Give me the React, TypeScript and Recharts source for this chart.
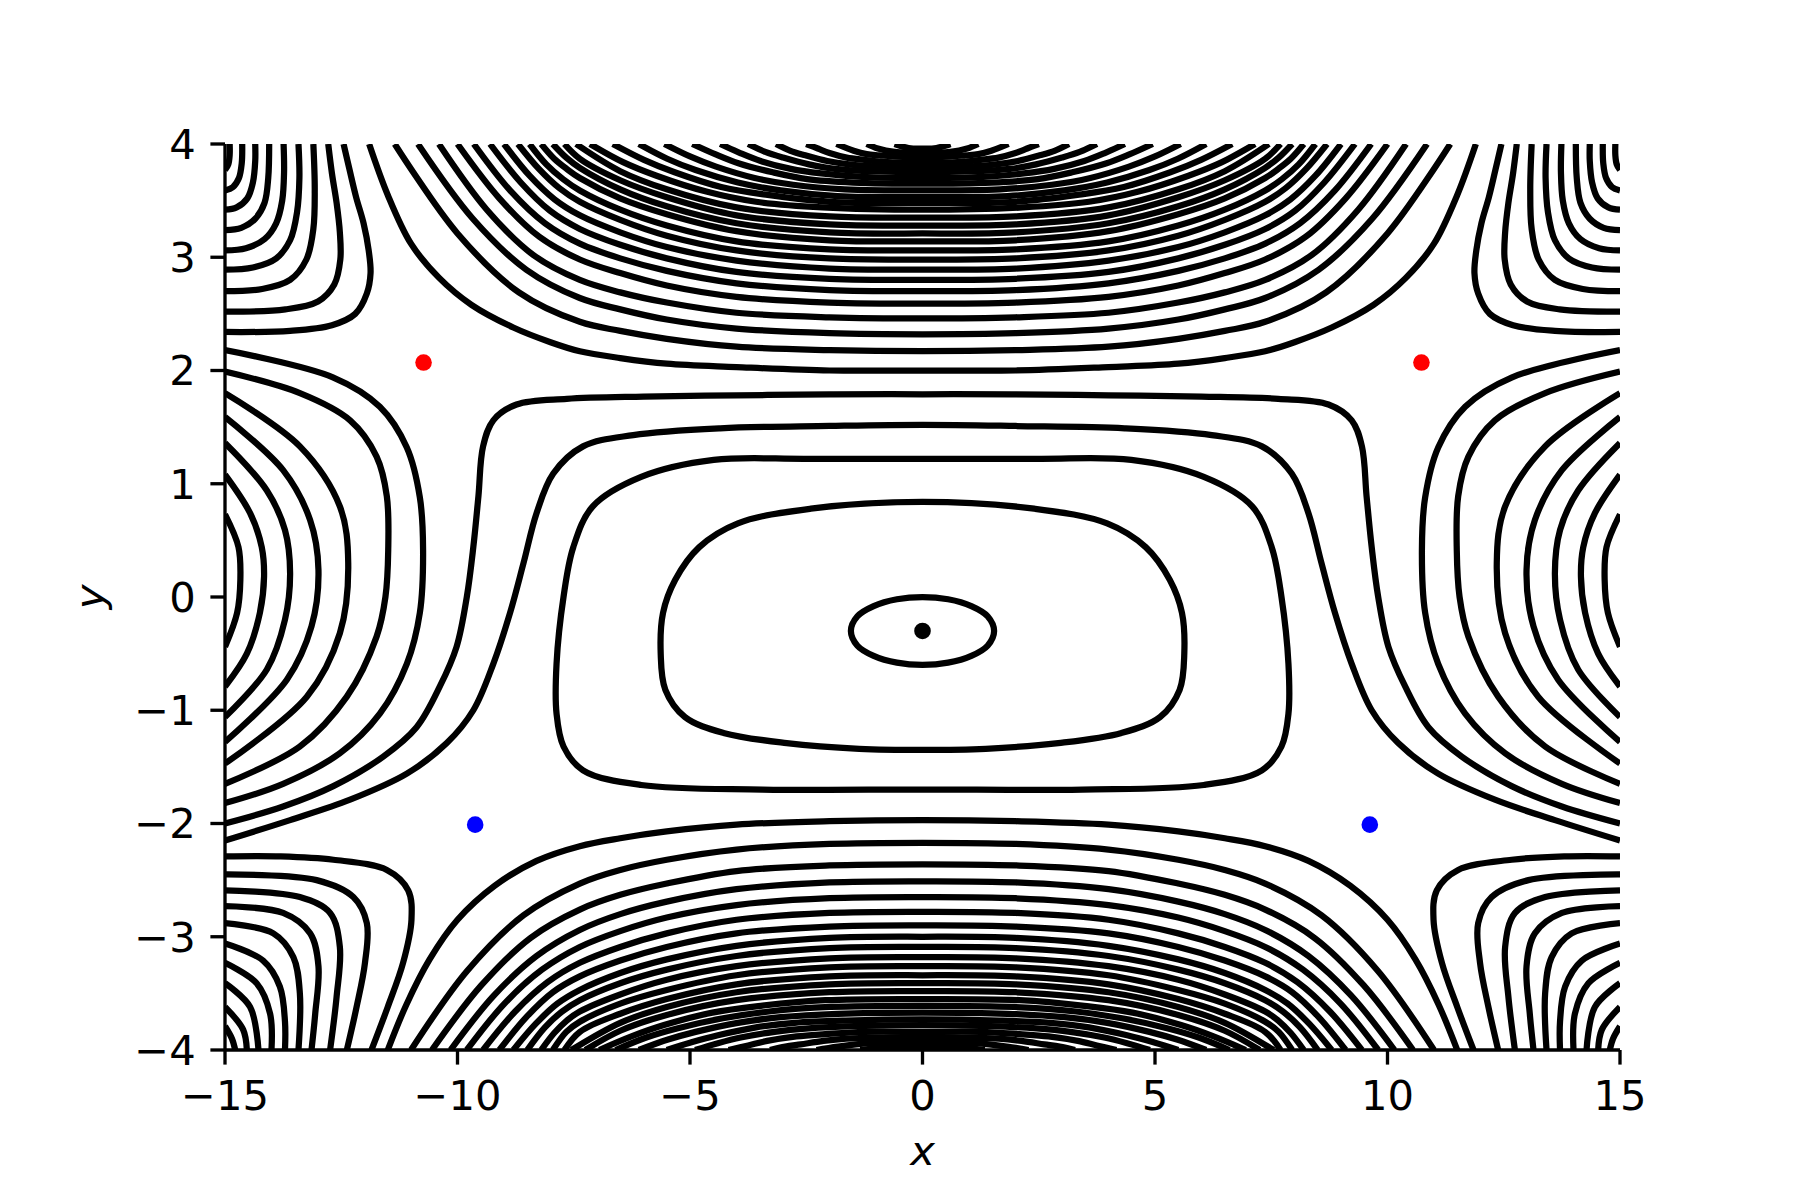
import React from 'react';
import { ComposedChart, Line, XAxis, YAxis } from 'recharts';

type Pair = [number, number];

const xTicks = [-15, -10, -5, 0, 5, 10, 15];
const yTicks = [-4, -3, -2, -1, 0, 1, 2, 3, 4];

// lines that leave the top edge, dip toward the middle and go back up
const topBand: Pair[][] = [
  [[-11.9,4],[-11.5,3.55],[-11,3.12],[-10.4,2.82],[-9.7,2.58],[-8.8,2.38],[-8,2.25],[-7.37,2.17],[-6.5,2.11],[-5.5,2.06],[-4,2.03],[-2,2],[0,2],[2,2],[4,2.03],[5.5,2.06],[6.5,2.11],[7.37,2.17],[8,2.25],[8.8,2.38],[9.7,2.58],[10.4,2.82],[11,3.12],[11.5,3.55],[11.9,4]],
  [[-11.35,4],[-10,3.21],[-8.68,2.69],[-7.37,2.43],[-6.5,2.35],[-5.5,2.28],[-4,2.21],[-2,2.18],[0,2.17],[2,2.18],[4,2.21],[5.5,2.28],[6.5,2.35],[7.37,2.43],[8.68,2.69],[10,3.21],[11.35,4]],
  [[-10.85,4],[-9.67,3.34],[-8.52,2.89],[-7.37,2.64],[-6.5,2.54],[-5.5,2.45],[-4,2.37],[-2,2.33],[0,2.32],[2,2.33],[4,2.37],[5.5,2.45],[6.5,2.54],[7.37,2.64],[8.52,2.89],[9.67,3.34],[10.85,4]],
  [[-10.4,4],[-9.37,3.42],[-8.37,3.02],[-7.37,2.8],[-6.5,2.69],[-5.5,2.6],[-4,2.51],[-2,2.47],[0,2.46],[2,2.47],[4,2.51],[5.5,2.6],[6.5,2.69],[7.37,2.8],[8.37,3.02],[9.37,3.42],[10.4,4]],
  [[-10,4],[-9.1,3.52],[-8.24,3.18],[-7.37,2.98],[-6.5,2.86],[-5.5,2.75],[-4,2.65],[-2,2.6],[0,2.59],[2,2.6],[4,2.65],[5.5,2.75],[6.5,2.86],[7.37,2.98],[8.24,3.18],[9.1,3.52],[10,4]],
  [[-9.65,4],[-8.87,3.59],[-8.12,3.3],[-7.37,3.12],[-6.5,2.99],[-5.5,2.88],[-4,2.77],[-2,2.71],[0,2.7],[2,2.71],[4,2.77],[5.5,2.88],[6.5,2.99],[7.37,3.12],[8.12,3.3],[8.87,3.59],[9.65,4]],
  [[-9.3,4],[-8.64,3.66],[-8.01,3.41],[-7.37,3.25],[-6.5,3.11],[-5.5,2.99],[-4,2.87],[-2,2.81],[0,2.8],[2,2.81],[4,2.87],[5.5,2.99],[6.5,3.11],[7.37,3.25],[8.01,3.41],[8.64,3.66],[9.3,4]],
  [[-9,4],[-8.45,3.72],[-7.91,3.51],[-7.37,3.37],[-6.5,3.22],[-5.5,3.09],[-4,2.97],[-2,2.9],[0,2.89],[2,2.9],[4,2.97],[5.5,3.09],[6.5,3.22],[7.37,3.37],[7.91,3.51],[8.45,3.72],[9,4]],
  [[-8.7,4],[-8.25,3.78],[-7.81,3.61],[-7.37,3.49],[-6.5,3.33],[-5.5,3.19],[-4,3.06],[-2,2.99],[0,2.98],[2,2.99],[4,3.06],[5.5,3.19],[6.5,3.33],[7.37,3.49],[7.81,3.61],[8.25,3.78],[8.7,4]],
  [[-8.45,4],[-8.09,3.82],[-7.73,3.69],[-7.37,3.59],[-6.5,3.42],[-5.5,3.28],[-4,3.14],[-2,3.07],[0,3.06],[2,3.07],[4,3.14],[5.5,3.28],[6.5,3.42],[7.37,3.59],[7.73,3.69],[8.09,3.82],[8.45,4]],
  [[-8.2,4],[-7.92,3.87],[-7.65,3.78],[-7.37,3.7],[-6.5,3.52],[-5.5,3.38],[-4,3.23],[-2,3.15],[0,3.14],[2,3.15],[4,3.23],[5.5,3.38],[6.5,3.52],[7.37,3.7],[7.65,3.78],[7.92,3.87],[8.2,4]],
  [[-7.95,4],[-7.66,3.88],[-7.37,3.79],[-6.5,3.6],[-5.5,3.45],[-4,3.3],[-2,3.22],[0,3.21],[2,3.22],[4,3.3],[5.5,3.45],[6.5,3.6],[7.37,3.79],[7.66,3.88],[7.95,4]],
  [[-7.7,4],[-7.37,3.87],[-6.5,3.68],[-5.5,3.53],[-4,3.37],[-2,3.29],[0,3.28],[2,3.29],[4,3.37],[5.5,3.53],[6.5,3.68],[7.37,3.87],[7.7,4]],
  [[-7.45,4],[-6.5,3.76],[-5.5,3.6],[-4,3.44],[-2,3.36],[0,3.35],[2,3.36],[4,3.44],[5.5,3.6],[6.5,3.76],[7.45,4]],
  [[-7.15,4],[-6.44,3.84],[-5.72,3.72],[-4.65,3.58],[-3.58,3.49],[-2.15,3.44],[0,3.42],[2.15,3.44],[3.58,3.49],[4.65,3.58],[5.72,3.72],[6.44,3.84],[7.15,4]],
  [[-6.66,4],[-5.99,3.86],[-5.33,3.75],[-4.33,3.62],[-3.33,3.55],[-2,3.49],[0,3.48],[2,3.49],[3.33,3.55],[4.33,3.62],[5.33,3.75],[5.99,3.86],[6.66,4]],
  [[-6.1,4],[-5.49,3.87],[-4.88,3.77],[-3.97,3.66],[-3.05,3.59],[-1.83,3.54],[0,3.53],[1.83,3.54],[3.05,3.59],[3.97,3.66],[4.88,3.77],[5.49,3.87],[6.1,4]],
  [[-5.55,4],[-5,3.89],[-4.44,3.8],[-3.61,3.7],[-2.78,3.64],[-1.67,3.6],[0,3.59],[1.67,3.6],[2.78,3.64],[3.61,3.7],[4.44,3.8],[5,3.89],[5.55,4]],
  [[-4.95,4],[-4.46,3.91],[-3.96,3.83],[-3.22,3.75],[-2.48,3.69],[-1.49,3.66],[0,3.65],[1.49,3.66],[2.48,3.69],[3.22,3.75],[3.96,3.83],[4.46,3.91],[4.95,4]],
  [[-4.35,4],[-3.92,3.92],[-3.48,3.85],[-2.83,3.78],[-2.18,3.74],[-1.31,3.71],[0,3.7],[1.31,3.71],[2.18,3.74],[2.83,3.78],[3.48,3.85],[3.92,3.92],[4.35,4]],
  [[-3.75,4],[-3.38,3.93],[-3,3.88],[-2.44,3.82],[-1.88,3.78],[-1.13,3.76],[0,3.75],[1.13,3.76],[1.88,3.78],[2.44,3.82],[3,3.88],[3.38,3.93],[3.75,4]],
  [[-3.15,4],[-2.84,3.94],[-2.52,3.9],[-2.05,3.85],[-1.58,3.82],[-0.95,3.8],[0,3.79],[0.95,3.8],[1.58,3.82],[2.05,3.85],[2.52,3.9],[2.84,3.94],[3.15,4]],
  [[-2.5,4],[-2.25,3.96],[-2,3.92],[-1.63,3.88],[-1.25,3.86],[-0.75,3.84],[0,3.84],[0.75,3.84],[1.25,3.86],[1.63,3.88],[2,3.92],[2.25,3.96],[2.5,4]],
  [[-1.85,4],[-1.48,3.94],[-1.2,3.91],[-0.93,3.9],[0,3.88],[0.93,3.9],[1.2,3.91],[1.48,3.94],[1.85,4]],
  [[-1.2,4],[-0.96,3.96],[-0.6,3.93],[0,3.92],[0.6,3.93],[0.96,3.96],[1.2,4]],
  [[-0.6,4],[-0.3,3.965],[0,3.96],[0.3,3.965],[0.6,4]],
];

const bottomBand: Pair[][] = [
  [[-11.5,-4],[-11.1,-3.6],[-10.6,-3.2],[-10,-2.85],[-9.2,-2.55],[-8.3,-2.33],[-7.37,-2.2],[-6.5,-2.13],[-5.5,-2.07],[-4,-2.01],[-2,-1.98],[0,-1.97],[2,-1.98],[4,-2.01],[5.5,-2.07],[6.5,-2.13],[7.37,-2.2],[8.3,-2.33],[9.2,-2.55],[10,-2.85],[10.6,-3.2],[11.1,-3.6],[11.5,-4]],
  [[-11,-4],[-9.79,-3.3],[-8.58,-2.81],[-7.37,-2.53],[-6.5,-2.41],[-5.5,-2.32],[-4,-2.23],[-2,-2.18],[0,-2.17],[2,-2.18],[4,-2.23],[5.5,-2.32],[6.5,-2.41],[7.37,-2.53],[8.58,-2.81],[9.79,-3.3],[11,-4]],
  [[-10.55,-4],[-9.49,-3.43],[-8.43,-3.01],[-7.37,-2.76],[-6.5,-2.63],[-5.5,-2.53],[-4,-2.42],[-2,-2.37],[0,-2.36],[2,-2.37],[4,-2.42],[5.5,-2.53],[6.5,-2.63],[7.37,-2.76],[8.43,-3.01],[9.49,-3.43],[10.55,-4]],
  [[-10.15,-4],[-9.22,-3.52],[-8.3,-3.17],[-7.37,-2.94],[-6.5,-2.8],[-5.5,-2.69],[-4,-2.58],[-2,-2.52],[0,-2.51],[2,-2.52],[4,-2.58],[5.5,-2.69],[6.5,-2.8],[7.37,-2.94],[8.3,-3.17],[9.22,-3.52],[10.15,-4]],
  [[-9.8,-4],[-8.99,-3.59],[-8.18,-3.29],[-7.37,-3.09],[-6.5,-2.95],[-5.5,-2.83],[-4,-2.72],[-2,-2.66],[0,-2.65],[2,-2.66],[4,-2.72],[5.5,-2.83],[6.5,-2.95],[7.37,-3.09],[8.18,-3.29],[8.99,-3.59],[9.8,-4]],
  [[-9.45,-4],[-8.76,-3.66],[-8.06,-3.4],[-7.37,-3.23],[-6.5,-3.09],[-5.5,-2.97],[-4,-2.85],[-2,-2.79],[0,-2.78],[2,-2.79],[4,-2.85],[5.5,-2.97],[6.5,-3.09],[7.37,-3.23],[8.06,-3.4],[8.76,-3.66],[9.45,-4]],
  [[-9.1,-4],[-8.52,-3.71],[-7.95,-3.49],[-7.37,-3.35],[-6.5,-3.21],[-5.5,-3.09],[-4,-2.97],[-2,-2.91],[0,-2.9],[2,-2.91],[4,-2.97],[5.5,-3.09],[6.5,-3.21],[7.37,-3.35],[7.95,-3.49],[8.52,-3.71],[9.1,-4]],
  [[-8.8,-4],[-8.32,-3.77],[-7.85,-3.59],[-7.37,-3.47],[-6.5,-3.32],[-5.5,-3.2],[-4,-3.08],[-2,-3.01],[0,-3],[2,-3.01],[4,-3.08],[5.5,-3.2],[6.5,-3.32],[7.37,-3.47],[7.85,-3.59],[8.32,-3.77],[8.8,-4]],
  [[-8.5,-4],[-8.12,-3.8],[-7.75,-3.66],[-7.37,-3.56],[-6.5,-3.41],[-5.5,-3.29],[-4,-3.17],[-2,-3.1],[0,-3.09],[2,-3.1],[4,-3.17],[5.5,-3.29],[6.5,-3.41],[7.37,-3.56],[7.75,-3.66],[8.12,-3.8],[8.5,-4]],
  [[-8.2,-4],[-7.92,-3.85],[-7.65,-3.74],[-7.37,-3.66],[-6.5,-3.51],[-5.5,-3.38],[-4,-3.26],[-2,-3.19],[0,-3.18],[2,-3.19],[4,-3.26],[5.5,-3.38],[6.5,-3.51],[7.37,-3.66],[7.65,-3.74],[7.92,-3.85],[8.2,-4]],
  [[-7.95,-4],[-7.66,-3.84],[-7.37,-3.75],[-6.5,-3.59],[-5.5,-3.47],[-4,-3.34],[-2,-3.27],[0,-3.26],[2,-3.27],[4,-3.34],[5.5,-3.47],[6.5,-3.59],[7.37,-3.75],[7.66,-3.84],[7.95,-4]],
  [[-7.7,-4],[-7.37,-3.84],[-6.5,-3.68],[-5.5,-3.55],[-4,-3.42],[-2,-3.35],[0,-3.34],[2,-3.35],[4,-3.42],[5.5,-3.55],[6.5,-3.68],[7.37,-3.84],[7.7,-4]],
  [[-7.55,-4],[-6.5,-3.76],[-5.5,-3.62],[-4,-3.49],[-2,-3.42],[0,-3.41],[2,-3.42],[4,-3.49],[5.5,-3.62],[6.5,-3.76],[7.55,-4]],
  [[-7.25,-4],[-6.5,-3.83],[-5.5,-3.69],[-4,-3.56],[-2,-3.49],[0,-3.48],[2,-3.49],[4,-3.56],[5.5,-3.69],[6.5,-3.83],[7.25,-4]],
  [[-6.95,-4],[-6.26,-3.88],[-5.56,-3.78],[-4.52,-3.67],[-3.48,-3.61],[-2.09,-3.56],[0,-3.55],[2.09,-3.56],[3.48,-3.61],[4.52,-3.67],[5.56,-3.78],[6.26,-3.88],[6.95,-4]],
  [[-6.6,-4],[-5.94,-3.89],[-5.28,-3.81],[-4.29,-3.72],[-3.3,-3.66],[-1.98,-3.62],[0,-3.61],[1.98,-3.62],[3.3,-3.66],[4.29,-3.72],[5.28,-3.81],[5.94,-3.89],[6.6,-4]],
  [[-6.1,-4],[-5.49,-3.91],[-4.88,-3.84],[-3.97,-3.76],[-3.05,-3.71],[-1.83,-3.68],[0,-3.67],[1.83,-3.68],[3.05,-3.71],[3.97,-3.76],[4.88,-3.84],[5.49,-3.91],[6.1,-4]],
  [[-5.5,-4],[-4.95,-3.93],[-4.4,-3.87],[-3.58,-3.8],[-2.75,-3.76],[-1.65,-3.74],[0,-3.73],[1.65,-3.74],[2.75,-3.76],[3.58,-3.8],[4.4,-3.87],[4.95,-3.93],[5.5,-4]],
  [[-4.89,-4],[-4.4,-3.94],[-3.91,-3.89],[-3.18,-3.84],[-2.45,-3.81],[-1.47,-3.79],[0,-3.78],[1.47,-3.79],[2.45,-3.81],[3.18,-3.84],[3.91,-3.89],[4.4,-3.94],[4.89,-4]],
  [[-4.17,-4],[-3.75,-3.96],[-3.34,-3.92],[-2.71,-3.88],[-2.09,-3.86],[-1.25,-3.84],[0,-3.84],[1.25,-3.84],[2.09,-3.86],[2.71,-3.88],[3.34,-3.92],[3.75,-3.96],[4.17,-4]],
  [[-3.28,-4],[-2.95,-3.97],[-2.62,-3.95],[-2.13,-3.92],[-1.64,-3.9],[-0.98,-3.89],[0,-3.89],[0.98,-3.89],[1.64,-3.9],[2.13,-3.92],[2.62,-3.95],[2.95,-3.97],[3.28,-4]],
  [[-2.28,-4],[-1.82,-3.97],[-1.14,-3.94],[0,-3.93],[1.14,-3.94],[1.82,-3.97],[2.28,-4]],
  [[-1.34,-4],[-0.67,-3.975],[0,-3.97],[0.67,-3.975],[1.34,-4]],
];

// corner families: left (or right) edge to the top / bottom edge
const topLeft: Pair[][] = [
  [[-15,2.34],[-13.6,2.35],[-12.7,2.4],[-12.2,2.5],[-11.95,2.68],[-11.87,2.86],[-11.91,3.06],[-12.02,3.3],[-12.18,3.53],[-12.32,3.77],[-12.45,4]],
  [[-15,2.52],[-13.7,2.54],[-13,2.61],[-12.65,2.76],[-12.52,2.98],[-12.53,3.22],[-12.6,3.48],[-12.7,3.74],[-12.78,4]],
  [[-15,2.7],[-14.2,2.72],[-13.6,2.8],[-13.25,2.98],[-13.1,3.25],[-13.07,3.6],[-13.1,4]],
  [[-15,2.89],[-14.4,2.91],[-13.9,2.99],[-13.6,3.15],[-13.45,3.4],[-13.4,3.7],[-13.42,4]],
  [[-15,3.06],[-14.55,3.08],[-14.15,3.16],[-13.9,3.3],[-13.77,3.5],[-13.73,3.75],[-13.74,4]],
  [[-15,3.24],[-14.65,3.26],[-14.35,3.34],[-14.15,3.48],[-14.07,3.7],[-14.05,4]],
  [[-15,3.42],[-14.75,3.44],[-14.52,3.52],[-14.4,3.66],[-14.35,3.85],[-14.35,4]],
  [[-15,3.59],[-14.83,3.62],[-14.7,3.7],[-14.64,3.83],[-14.63,4]],
  [[-15,3.77],[-14.93,3.82],[-14.9,3.9],[-14.9,4]],
];

const topRight: Pair[][] = [
  [[15,2.34],[13.6,2.35],[12.7,2.4],[12.2,2.5],[11.95,2.68],[11.87,2.86],[11.91,3.06],[12.02,3.3],[12.18,3.53],[12.32,3.77],[12.45,4]],
  [[15,2.52],[13.7,2.54],[13,2.61],[12.65,2.76],[12.52,2.98],[12.53,3.22],[12.6,3.48],[12.7,3.74],[12.78,4]],
  [[15,2.7],[14.2,2.72],[13.6,2.8],[13.25,2.98],[13.1,3.25],[13.07,3.6],[13.1,4]],
  [[15,2.89],[14.4,2.91],[13.9,2.99],[13.6,3.15],[13.45,3.4],[13.4,3.7],[13.42,4]],
  [[15,3.06],[14.55,3.08],[14.15,3.16],[13.9,3.3],[13.77,3.5],[13.73,3.75],[13.74,4]],
  [[15,3.24],[14.65,3.26],[14.35,3.34],[14.15,3.48],[14.07,3.7],[14.05,4]],
  [[15,3.42],[14.75,3.44],[14.52,3.52],[14.4,3.66],[14.35,3.85],[14.35,4]],
  [[15,3.59],[14.83,3.62],[14.7,3.7],[14.64,3.83],[14.63,4]],
  [[15,3.77],[14.93,3.82],[14.9,3.9],[14.9,4]],
];

const bottomLeft: Pair[][] = [
  [[-15,-2.29],[-13.8,-2.29],[-12.67,-2.32],[-11.52,-2.41],[-11.06,-2.59],[-10.99,-2.85],[-11.17,-3.23],[-11.5,-3.62],[-11.85,-4]],
  [[-15,-2.45],[-13.03,-2.5],[-12.24,-2.65],[-11.95,-2.88],[-11.99,-3.23],[-12.17,-3.62],[-12.38,-4]],
  [[-15,-2.59],[-13.39,-2.65],[-12.74,-2.79],[-12.53,-3.09],[-12.6,-3.53],[-12.74,-4]],
  [[-15,-2.73],[-13.75,-2.79],[-13.17,-2.97],[-12.99,-3.26],[-13.06,-3.68],[-13.14,-4]],
  [[-15,-2.88],[-13.96,-2.97],[-13.53,-3.18],[-13.39,-3.5],[-13.42,-4]],
  [[-15,-3.06],[-14.18,-3.21],[-13.82,-3.44],[-13.71,-3.75],[-13.71,-4]],
  [[-15,-3.23],[-14.32,-3.41],[-14.03,-3.68],[-14,-4]],
  [[-15,-3.41],[-14.46,-3.62],[-14.28,-4]],
  [[-15,-3.62],[-14.61,-3.82],[-14.53,-4]],
  [[-15,-3.79],[-14.85,-3.9],[-14.78,-4]],
];

const bottomRight: Pair[][] = [
  [[15,-2.29],[13.8,-2.29],[12.67,-2.32],[11.52,-2.41],[11.06,-2.59],[10.99,-2.85],[11.17,-3.23],[11.5,-3.62],[11.85,-4]],
  [[15,-2.45],[13.03,-2.5],[12.24,-2.65],[11.95,-2.88],[11.99,-3.23],[12.17,-3.62],[12.38,-4]],
  [[15,-2.59],[13.39,-2.65],[12.74,-2.79],[12.53,-3.09],[12.6,-3.53],[12.74,-4]],
  [[15,-2.73],[13.75,-2.79],[13.17,-2.97],[12.99,-3.26],[13.06,-3.68],[13.14,-4]],
  [[15,-2.88],[13.96,-2.97],[13.53,-3.18],[13.39,-3.5],[13.42,-4]],
  [[15,-3.06],[14.18,-3.21],[13.82,-3.44],[13.71,-3.75],[13.71,-4]],
  [[15,-3.23],[14.32,-3.41],[14.03,-3.68],[14,-4]],
  [[15,-3.41],[14.46,-3.62],[14.28,-4]],
  [[15,-3.62],[14.61,-3.82],[14.53,-4]],
  [[15,-3.79],[14.85,-3.9],[14.78,-4]],
];

// nested arcs against the left and right edges
const leftArcs: Pair[][] = [
  [[-15,0.73],[-14.71,0.44],[-14.67,0.15],[-14.74,-0.14],[-15,-0.44]],
  [[-15,1.08],[-14.46,0.74],[-14.21,0.44],[-14.16,0.18],[-14.25,-0.14],[-14.53,-0.5],[-15,-0.79]],
  [[-15,1.36],[-14.1,0.94],[-13.71,0.59],[-13.6,0.21],[-13.71,-0.2],[-14.1,-0.64],[-15,-1.06]],
  [[-15,1.59],[-13.75,1.12],[-13.17,0.68],[-12.99,0.24],[-13.14,-0.26],[-13.67,-0.73],[-15,-1.28]],
  [[-15,1.8],[-13.39,1.33],[-12.53,0.8],[-12.35,0.3],[-12.53,-0.32],[-13.24,-0.88],[-15,-1.47]],
  [[-15,1.99],[-13.39,1.8],[-12.31,1.56],[-11.74,1.24],[-11.52,0.89],[-11.49,0.41],[-11.55,0],[-11.74,-0.35],[-12.38,-0.88],[-13.39,-1.32],[-15,-1.65]],
  [[-15,2.18],[-12.68,1.94],[-11.67,1.68],[-11.09,1.32],[-10.81,0.88],[-10.74,0.41],[-10.81,-0.14],[-11.09,-0.59],[-11.67,-1.03],[-12.53,-1.38],[-13.75,-1.65],[-15,-1.82]],
];

const rightArcs: Pair[][] = [
  [[15,0.73],[14.71,0.44],[14.67,0.15],[14.74,-0.14],[15,-0.44]],
  [[15,1.08],[14.46,0.74],[14.21,0.44],[14.16,0.18],[14.25,-0.14],[14.53,-0.5],[15,-0.79]],
  [[15,1.36],[14.1,0.94],[13.71,0.59],[13.6,0.21],[13.71,-0.2],[14.1,-0.64],[15,-1.06]],
  [[15,1.59],[13.75,1.12],[13.17,0.68],[12.99,0.24],[13.14,-0.26],[13.67,-0.73],[15,-1.28]],
  [[15,1.8],[13.39,1.33],[12.53,0.8],[12.35,0.3],[12.53,-0.32],[13.24,-0.88],[15,-1.47]],
  [[15,1.99],[13.39,1.8],[12.31,1.56],[11.74,1.24],[11.52,0.89],[11.49,0.41],[11.55,0],[11.74,-0.35],[12.38,-0.88],[13.39,-1.32],[15,-1.65]],
  [[15,2.18],[12.68,1.94],[11.67,1.68],[11.09,1.32],[10.81,0.88],[10.74,0.41],[10.81,-0.14],[11.09,-0.59],[11.67,-1.03],[12.53,-1.38],[13.75,-1.65],[15,-1.82]],
];

// two arches from the left edge over the middle to the right edge
const arches: Pair[][] = [
  [[-15,-2],[-13.75,-1.85],[-12.67,-1.67],[-11.6,-1.41],[-10.88,-1.15],[-10.38,-0.79],[-10.02,-0.44],[-9.8,0],[-9.66,0.44],[-9.55,0.89],[-9.45,1.33],[-9.23,1.56],[-8.73,1.7],[-7.65,1.75],[-6,1.77],[-4,1.78],[-2,1.79],[0,1.79],[2,1.79],[4,1.78],[6,1.77],[7.65,1.75],[8.73,1.7],[9.23,1.56],[9.45,1.33],[9.55,0.89],[9.66,0.44],[9.8,0],[10.02,-0.44],[10.38,-0.79],[10.88,-1.15],[11.6,-1.41],[12.67,-1.67],[13.75,-1.85],[15,-2]],
  [[-15,-2.15],[-13.6,-1.97],[-12.31,-1.79],[-11.09,-1.56],[-10.23,-1.29],[-9.66,-1],[-9.23,-0.59],[-8.87,-0.14],[-8.58,0.3],[-8.3,0.74],[-7.94,1.09],[-7.3,1.33],[-6.22,1.43],[-4.35,1.49],[-2,1.51],[0,1.52],[2,1.51],[4.35,1.49],[6.22,1.43],[7.3,1.33],[7.94,1.09],[8.3,0.74],[8.58,0.3],[8.87,-0.14],[9.23,-0.59],[9.66,-1],[10.23,-1.29],[11.09,-1.56],[12.31,-1.79],[13.6,-1.97],[15,-2.15]],
];

// closed rings around the centre
const rings: Pair[][] = [
  [[0,1.22],[-2.5,1.22],[-4.49,1.21],[-6.05,1.06],[-7.09,0.8],[-7.51,0.44],[-7.72,0],[-7.87,-0.59],[-7.87,-1.03],[-7.72,-1.32],[-7.3,-1.53],[-6.05,-1.66],[-3.44,-1.7],[0,-1.7],[3.44,-1.7],[6.05,-1.66],[7.3,-1.53],[7.72,-1.32],[7.87,-1.03],[7.87,-0.59],[7.72,0],[7.51,0.44],[7.09,0.8],[6.05,1.06],[4.49,1.21],[2.5,1.22]],
  [[0,0.84],[-2.4,0.78],[-3.97,0.65],[-4.8,0.44],[-5.32,0.15],[-5.58,-0.14],[-5.63,-0.5],[-5.53,-0.82],[-5.11,-1.06],[-4.28,-1.2],[-2.92,-1.29],[-1.36,-1.34],[0,-1.35],[1.36,-1.34],[2.92,-1.29],[4.28,-1.2],[5.11,-1.06],[5.53,-0.82],[5.63,-0.5],[5.58,-0.14],[5.32,0.15],[4.8,0.44],[3.97,0.65],[2.4,0.78]],
  [[0,0],[-0.55,-0.02],[-1.05,-0.08],[-1.4,-0.17],[-1.54,-0.3],[-1.4,-0.43],[-1.05,-0.52],[-0.55,-0.58],[0,-0.6],[0.55,-0.58],[1.05,-0.52],[1.4,-0.43],[1.54,-0.3],[1.4,-0.17],[1.05,-0.08],[0.55,-0.02]],
];

const centrePoint = [{ x: 0, y: -0.3 }];
const redPoints = [{ x: -10.73, y: 2.07 }, { x: 10.73, y: 2.07 }];
const bluePoints = [{ x: -9.62, y: -2.01 }, { x: 9.62, y: -2.01 }];

const toPts = (c: Pair[]) => c.map(([x, y]) => ({ x, y }));

// centripetal catmull-rom, open or closed
function smoothCurve(closed: boolean) {
  return (ctx: any) => {
    let pts: number[][] = [];
    return {
      areaStart() {},
      areaEnd() {},
      lineStart() { pts = []; },
      point(x: number, y: number) { pts.push([+x, +y]); },
      lineEnd() {
        const n = pts.length;
        if (!n) return;
        const at = (i: number) => (closed ? pts[(i + n) % n] : pts[Math.max(0, Math.min(n - 1, i))]);
        ctx.moveTo(pts[0][0], pts[0][1]);
        const segs = closed ? n : n - 1;
        for (let i = 0; i < segs; i++) {
          const p0 = at(i - 1), p1 = at(i), p2 = at(i + 1), p3 = at(i + 2);
          const l01 = Math.sqrt(Math.hypot(p1[0] - p0[0], p1[1] - p0[1]));
          const l12 = Math.sqrt(Math.hypot(p2[0] - p1[0], p2[1] - p1[1]));
          const l23 = Math.sqrt(Math.hypot(p3[0] - p2[0], p3[1] - p2[1]));
          let c1 = p1, c2 = p2;
          if (l01 > 1e-6) {
            const a = 2 * l01 * l01 + 3 * l01 * l12 + l12 * l12;
            const m = 3 * l01 * (l01 + l12);
            c1 = [0, 1].map((k) => (p1[k] * a - p0[k] * l12 * l12 + p2[k] * l01 * l01) / m);
          }
          if (l23 > 1e-6) {
            const b = 2 * l23 * l23 + 3 * l23 * l12 + l12 * l12;
            const m = 3 * l23 * (l23 + l12);
            c2 = [0, 1].map((k) => (p2[k] * b + p1[k] * l23 * l23 - p3[k] * l12 * l12) / m);
          }
          ctx.bezierCurveTo(c1[0], c1[1], c2[0], c2[1], p2[0], p2[1]);
        }
        if (closed) ctx.closePath();
      },
    };
  };
}

const openCurve = smoothCurve(false);
const closedCurve = smoothCurve(true);

const fmt = (v: number) => (v < 0 ? `\u2212${Math.abs(v)}` : `${v}`);
const tickFont = { fontFamily: 'DejaVu Sans', fontSize: 41.7, fill: '#000' };
const axisStroke = { stroke: '#000', strokeWidth: 3.33 };
const labelFont = { fontFamily: 'DejaVu Sans', fontStyle: 'italic', fontSize: 41.7, fill: '#000' };

export default function App() {
  const open = [...topBand, ...bottomBand, ...topLeft, ...topRight, ...bottomLeft, ...bottomRight, ...leftArcs, ...rightArcs, ...arches];

  return (
    <div style={{ position: 'absolute', left: 0, top: 0, width: 1800, height: 1200, background: '#fff' }}>
      <ComposedChart width={1800} height={1200} margin={{ top: 144, right: 180, bottom: 40, left: 115 }}>
        <XAxis
          type="number"
          dataKey="x"
          domain={[-15, 15]}
          ticks={xTicks}
          interval={0}
          allowDataOverflow
          height={110}
          tickFormatter={fmt}
          tick={tickFont}
          tickSize={14.6}
          tickMargin={16}
          tickLine={axisStroke}
          axisLine={axisStroke}
          label={{
            content: ({ viewBox }: any) => (
              <text x={viewBox.x + viewBox.width / 2} y={viewBox.y + 115} textAnchor="middle" style={labelFont}>x</text>
            ),
          }}
        />
        <YAxis
          type="number"
          dataKey="y"
          domain={[-4, 4]}
          ticks={yTicks}
          interval={0}
          allowDataOverflow
          width={110}
          tickFormatter={fmt}
          tick={tickFont}
          tickSize={14.6}
          tickMargin={14.6}
          tickLine={axisStroke}
          axisLine={axisStroke}
          label={{
            content: ({ viewBox }: any) => {
              const cx = viewBox.x - 11;
              const cy = viewBox.y + viewBox.height / 2;
              return (
                <text x={cx} y={cy} transform={`rotate(-90 ${cx} ${cy})`} textAnchor="middle" style={labelFont}>y</text>
              );
            },
          }}
        />
        <XAxis xAxisId="top" orientation="top" type="number" domain={[-15, 15]} height={0}
          tick={false} tickLine={false} axisLine={axisStroke} />
        <YAxis yAxisId="right" orientation="right" type="number" domain={[-4, 4]} width={0}
          tick={false} tickLine={false} axisLine={axisStroke} />

        {open.map((c, i) => (
          <Line key={`o${i}`} data={toPts(c)} dataKey="y" type={openCurve as any} stroke="#000"
            strokeWidth={6.25} dot={false} activeDot={false} isAnimationActive={false} />
        ))}
        {rings.map((c, i) => (
          <Line key={`r${i}`} data={toPts(c)} dataKey="y" type={closedCurve as any} stroke="#000"
            strokeWidth={6.25} dot={false} activeDot={false} isAnimationActive={false} />
        ))}

        <Line data={centrePoint} dataKey="y" stroke="none" isAnimationActive={false} activeDot={false}
          dot={{ r: 8.3, fill: '#000', stroke: 'none' }} />
        <Line data={redPoints} dataKey="y" stroke="none" isAnimationActive={false} activeDot={false}
          dot={{ r: 8.3, fill: '#ff0000', stroke: 'none' }} />
        <Line data={bluePoints} dataKey="y" stroke="none" isAnimationActive={false} activeDot={false}
          dot={{ r: 8.3, fill: '#0000ff', stroke: 'none' }} />
      </ComposedChart>
    </div>
  );
}
